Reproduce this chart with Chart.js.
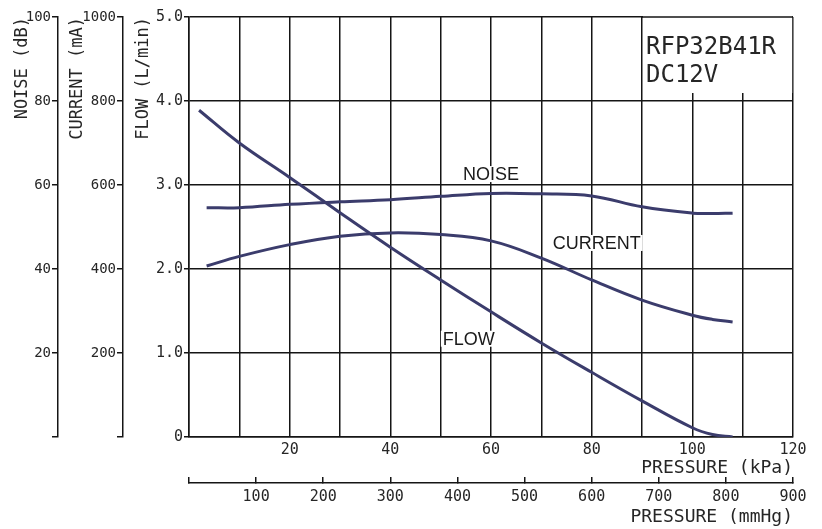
<!DOCTYPE html>
<html>
<head>
<meta charset="utf-8">
<script src="https://cdn.jsdelivr.net/npm/chart.js@4.4.0/dist/chart.umd.min.js"></script>
<style>
html, body { margin: 0; padding: 0; background: #fff; }
#caixa { width: 822px; height: 529px; }
</style>
</head>
<body>
<div id="caixa"><canvas id="grafico"></canvas></div>
<script>
// pressure in kPa
var pressure = [3.5, 10, 20, 30, 40, 50, 60, 70, 80, 90, 100, 104, 108];
var flowPressure = [2, 10, 20, 30, 40, 50, 60, 70, 80, 90, 100, 104, 108];
var flow = [3.89, 3.50, 3.09, 2.67, 2.26, 1.87, 1.49, 1.12, 0.77, 0.43, 0.11, 0.03, 0.0];
var noise = [54.6, 54.6, 55.4, 56.0, 56.5, 57.3, 58.0, 57.9, 57.4, 54.8, 53.3, 53.2, 53.3];
var current = [407, 430, 458, 478, 486, 482, 467, 426, 374, 326, 290, 280, 274];

var curveNames = ['NOISE', 'CURRENT', 'FLOW'];
var modelText = ['RFP32B41R', 'DC12V'];

var mono = '"DejaVu Sans Mono", monospace';
var ink = '#262626';
var gridColor = '#151515';
var curveColor = '#3b3c6c';

function serie(nome, xs, valores, eixo) {
	return {
		label: nome,
		data: xs.map(function(p, i){ return {x: p, y: valores[i]}; }),
		xAxisID: 'x',
		yAxisID: eixo,
		borderColor: curveColor,
		borderWidth: 3,
		pointRadius: 0,
		fill: false,
		tension: 0.4
	};
}

// curve names sit on the flow scale, in kPa / L/min
var namePos = { NOISE: [60, 3.13], CURRENT: [81, 2.31], FLOW: [55.6, 1.17] };

var rotulos = {
	id: 'rotulos',
	afterDraw: function(chart){
		var ctx = chart.ctx, sx = chart.scales.x, sy = chart.scales.yFlow, a = chart.chartArea;
		ctx.save();
		// model box covers the grid in the top right corner
		var bx = sx.getPixelForValue(90) + 1;
		var bb = sy.getPixelForValue(4) - 8;
		ctx.fillStyle = '#fff';
		ctx.fillRect(bx, a.top - 3, a.right - 0.8 - bx, bb - a.top + 3);
		// put the top border back over the box
		ctx.strokeStyle = gridColor;
		ctx.lineWidth = 1.5;
		ctx.beginPath();
		ctx.moveTo(bx - 1, a.top);
		ctx.lineTo(a.right, a.top);
		ctx.stroke();

		ctx.fillStyle = ink;
		ctx.font = '24px ' + mono;
		ctx.textAlign = 'left';
		ctx.textBaseline = 'middle';
		ctx.fillText(modelText[0], bx + 3, a.top + 31);
		ctx.fillText(modelText[1], bx + 3, a.top + 59);

		ctx.font = '18px "Liberation Sans", Arial, sans-serif';
		ctx.textAlign = 'center';
		curveNames.forEach(function(n){
			var px = sx.getPixelForValue(namePos[n][0]);
			var py = sy.getPixelForValue(namePos[n][1]);
			var w = ctx.measureText(n).width;
			ctx.fillStyle = '#fff';
			ctx.fillRect(px - w / 2 - 2, py - 8, w + 4, 16);
			ctx.fillStyle = '#1a1a1a';
			ctx.fillText(n, px, py + 1);
		});
		ctx.restore();
	}
};

function eixoY(peso, max, passo, largura, titulo, pt, tick, tam, mostraZero){
	return {
		type: 'linear',
		position: 'left',
		weight: peso,
		min: 0,
		max: max,
		ticks: {
			stepSize: passo,
			padding: 1,
			color: ink,
			font: {family: mono, size: tam},
			callback: function(v){
				if (v === 0) return mostraZero ? '0' : '';
				return max === 5 ? v.toFixed(1) : String(v);
			}
		},
		grid: {
			drawOnChartArea: max === 5,
			drawTicks: true,
			tickLength: tick,
			color: gridColor,
			lineWidth: 1.5
		},
		border: {display: true, color: gridColor, width: 1.5},
		title: {
			display: true,
			text: titulo,
			align: 'end',
			color: ink,
			font: {family: mono, size: 17},
			padding: {top: pt, bottom: 0}
		},
		afterFit: function(s){ s.width = largura; }
	};
}

new Chart(document.getElementById('grafico'), {
	type: 'line',
	data: {
		datasets: [
			serie('FLOW', flowPressure, flow, 'yFlow'),
			serie('NOISE', pressure, noise, 'yNoise'),
			serie('CURRENT', pressure, current, 'yCurrent')
		]
	},
	options: {
		responsive: true,
		maintainAspectRatio: false,
		animation: false,
		layout: {padding: {left: 0, right: 29, top: 17, bottom: 0}},
		plugins: {legend: {display: false}, tooltip: {enabled: false}},
		scales: {
			x: {
				type: 'linear',
				position: 'bottom',
				weight: 0,
				min: 0,
				max: 120,
				ticks: {
					stepSize: 10,
					autoSkip: false,
					maxRotation: 0,
					padding: 4,
					color: ink,
					font: {family: mono, size: 15},
					callback: function(v){ return (v > 0 && v % 20 === 0) ? String(v) : ''; }
				},
				grid: {color: gridColor, lineWidth: 1.5, drawTicks: false},
				border: {display: true, color: gridColor, width: 1.5},
				title: {
					display: true, text: 'PRESSURE (kPa)', align: 'end', color: ink,
					font: {family: mono, size: 18}, padding: {top: 0, bottom: 4}
				},
				afterFit: function(s){ s.height = 46; }
			},
			x2: {
				type: 'linear',
				position: 'bottom',
				weight: 1,
				min: 0,
				max: 900,
				ticks: {
					stepSize: 100,
					autoSkip: false,
					maxRotation: 0,
					padding: 11,
					color: ink,
					font: {family: mono, size: 15},
					callback: function(v){ return v > 0 ? String(v) : ''; }
				},
				grid: {drawOnChartArea: false, drawTicks: true, tickLength: -6, color: gridColor, lineWidth: 1.5},
				border: {display: true, color: gridColor, width: 1.5},
				title: {
					display: true, text: 'PRESSURE (mmHg)', align: 'end', color: ink,
					font: {family: mono, size: 18}, padding: {top: 0, bottom: 1}
				},
				afterFit: function(s){ s.height = 46; }
			},
			yNoise: eixoY(3, 100, 20, 58, 'NOISE (dB)', 12, 6, 14, false),
			yCurrent: eixoY(2, 1000, 200, 65, 'CURRENT (mA)', 9, 6, 14, false),
			yFlow: eixoY(1, 5, 1, 66, 'FLOW (L/min)', 10, 5, 15, true)
		}
	},
	plugins: [rotulos]
});
</script>
</body>
</html>
